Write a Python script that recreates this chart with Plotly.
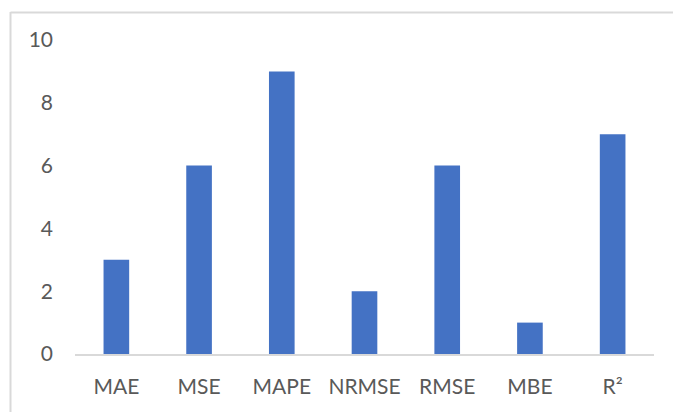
import plotly.graph_objects as go

categories = ["MAE", "MSE", "MAPE", "NRMSE", "RMSE", "MBE", "R²"]
values = [3, 6, 9, 2, 6, 1, 7]
y_ticks = [0, 2, 4, 6, 8, 10]

W, H = 673, 412
L, R, T, B = 75, 19, 40, 58
pw = W - L - R
ph = H - T - B

def px_to_paper_x(x):
    return (x - L) / pw

def px_to_paper_y(y):
    return (H - B - y) / ph

fig = go.Figure(go.Bar(
    x=categories, y=values,
    marker=dict(color="#4472C4", line=dict(width=0)),
    width=0.31,
))

frame = "#D9D9D9"
fig.add_shape(type="line", xref="paper", yref="paper",
              x0=px_to_paper_x(10.5), x1=px_to_paper_x(10.5),
              y0=px_to_paper_y(12), y1=px_to_paper_y(415),
              line=dict(color=frame, width=2))
fig.add_shape(type="line", xref="paper", yref="paper",
              x0=px_to_paper_x(10.5), x1=px_to_paper_x(680),
              y0=px_to_paper_y(12.5), y1=px_to_paper_y(12.5),
              line=dict(color=frame, width=2))

tick_font = dict(family="Lato", size=21, color="#595959")

fig.update_layout(
    width=W, height=H,
    margin=dict(l=L, r=R, t=T, b=B),
    paper_bgcolor="white", plot_bgcolor="white",
    showlegend=False,
    font=tick_font,
    xaxis=dict(showline=True, linecolor="#D9D9D9", linewidth=2,
               showgrid=False, ticks="", ticklabelstandoff=13,
               tickfont=tick_font),
    yaxis=dict(range=[0, 10], tickvals=y_ticks, showgrid=False,
               zeroline=False, showline=False, ticks="",
               ticklabelstandoff=21,
               tickfont=tick_font),
)

fig.write_html("out.html")
